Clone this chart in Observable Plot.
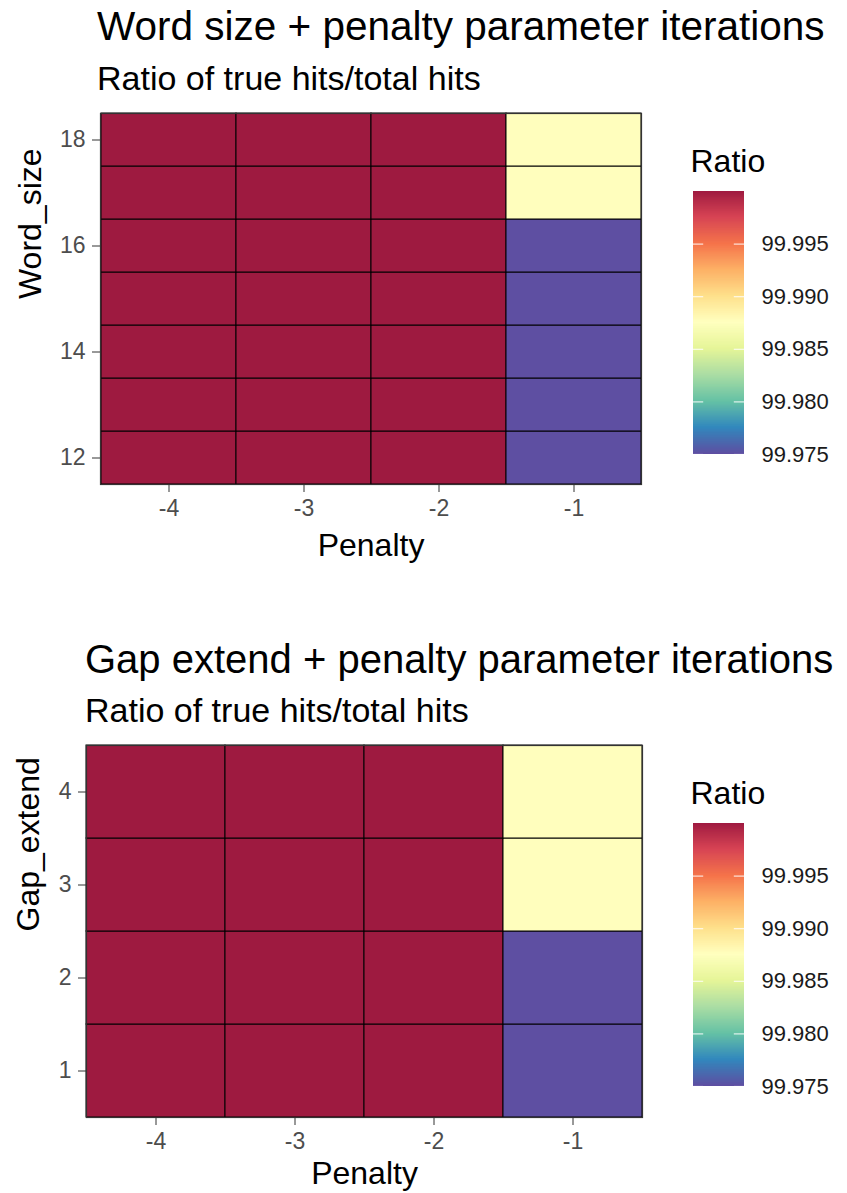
<!DOCTYPE html>
<html><head><meta charset="utf-8">
<script src="https://cdn.jsdelivr.net/npm/d3@7"></script>
<script src="https://cdn.jsdelivr.net/npm/@observablehq/plot@0.6"></script>
<style>
html,body{margin:0;padding:0;background:#fff;}
#root{position:relative;width:847px;height:1193px;overflow:hidden;font-family:"Liberation Sans",Arial,sans-serif;background:#fff;}
.t{position:absolute;white-space:nowrap;line-height:1;color:#000;}
</style></head><body><div id="root"></div>
<script>
// ---- data ----
const penalties = [-4, -3, -2, -1];
const wordSizes = [12, 13, 14, 15, 16, 17, 18];
const gapExtends = [1, 2, 3, 4];
// ratio (%) per penalty column, rows listed from lowest to highest row value
const wordRatioPenM4 = [100, 100, 100, 100, 100, 100, 100];
const wordRatioPenM3 = [100, 100, 100, 100, 100, 100, 100];
const wordRatioPenM2 = [100, 100, 100, 100, 100, 100, 100];
const wordRatioPenM1 = [99.975, 99.975, 99.975, 99.975, 99.975, 99.9876, 99.9876];
const gapRatioPenM4 = [100, 100, 100, 100];
const gapRatioPenM3 = [100, 100, 100, 100];
const gapRatioPenM2 = [100, 100, 100, 100];
const gapRatioPenM1 = [99.975, 99.975, 99.9876, 99.9876];
const wordTicks = [12, 14, 16, 18];
const gapTicks = [1, 2, 3, 4];
const legendTicks = [99.975, 99.98, 99.985, 99.99, 99.995];
const titles = ["Word size + penalty parameter iterations", "Gap extend + penalty parameter iterations"];
const subtitle = "Ratio of true hits/total hits";
// Spectral palette, low -> high
const paletteColors = ["#5E4FA2", "#3288BD", "#66C2A5", "#ABDDA4", "#E6F598", "#FFFFBF",
  "#FEE08B", "#FDAE61", "#F46D43", "#D53E4F", "#9E1A40"];

const allRatios = [wordRatioPenM4, wordRatioPenM3, wordRatioPenM2, wordRatioPenM1,
  gapRatioPenM4, gapRatioPenM3, gapRatioPenM2, gapRatioPenM1].flat();
const colorDomain = d3.extent(allRatios);
const colorScale = {type: "linear", domain: colorDomain, interpolate: d3.piecewise(d3.interpolateRgb, paletteColors)};
const FONT = '"Liberation Sans", Arial, sans-serif';

const root = document.getElementById("root");
function addText(txt, left, top, size) {
  const d = document.createElement("div");
  d.className = "t";
  d.style.left = left + "px"; d.style.top = top + "px"; d.style.fontSize = size + "px";
  d.textContent = txt;
  root.appendChild(d);
}
function place(el, left, top) {
  el.style.position = "absolute"; el.style.left = left + "px"; el.style.top = top + "px";
  root.appendChild(el);
}

function heat({rows, cols, yTicks, yLabel, width, height, mL, mR, mT, mB, yTitleDx, xTitleDy}) {
  const data = [];
  rows.forEach((r, i) => cols.forEach((col, j) => data.push({penalty: penalties[j], row: r, ratio: col[i]})));
  return Plot.plot({
    width, height, marginLeft: mL, marginRight: mR, marginTop: mT, marginBottom: mB,
    style: {fontFamily: FONT, background: "transparent", overflow: "visible"},
    x: {type: "band", domain: penalties, padding: 0},
    y: {type: "band", domain: rows.slice().reverse(), padding: 0},
    color: colorScale,
    marks: [
      Plot.cell(data, {x: "penalty", y: "row", fill: "ratio", stroke: "black", strokeWidth: 1}),
      Plot.frame({stroke: "#333", strokeWidth: 1.2}),
      Plot.axisX({tickSize: 8, tickPadding: 7, fontSize: 23, stroke: "#333", fill: "#4d4d4d", label: null}),
      Plot.axisY({ticks: yTicks, tickSize: 8, tickPadding: 7, fontSize: 23, stroke: "#333", fill: "#4d4d4d", label: null}),
      Plot.text(["Penalty"], {frameAnchor: "bottom", lineAnchor: "middle", dy: xTitleDy, fontSize: 32, text: d => d, fill: "#000"}),
      Plot.text([yLabel], {frameAnchor: "left", lineAnchor: "middle", dx: yTitleDx, rotate: -90, fontSize: 32, text: d => d, fill: "#000"})
    ]
  });
}

function legend() {
  const n = 264;
  const dv = (colorDomain[1] - colorDomain[0]) / n;
  const steps = d3.range(n).map(i => colorDomain[0] + i * dv);
  return Plot.plot({
    width: 167, height: 334, marginLeft: 13, marginRight: 103, marginTop: 51, marginBottom: 20,
    style: {fontFamily: FONT, background: "transparent", overflow: "visible"},
    x: {domain: [0, 1], axis: null},
    y: {domain: colorDomain},
    color: colorScale,
    marks: [
      Plot.rect(steps, {x1: 0, x2: 1, y1: d => d, y2: d => Math.min(d + dv * 1.6, colorDomain[1]), fill: d => d}),
      Plot.ruleY(legendTicks, {x1: 0, x2: 0.2, stroke: "white", strokeWidth: 1.2, strokeOpacity: 0.8}),
      Plot.ruleY(legendTicks, {x1: 0.8, x2: 1, stroke: "white", strokeWidth: 1.2, strokeOpacity: 0.8}),
      Plot.axisY({anchor: "right", ticks: legendTicks, tickSize: 0, tickPadding: 17, tickFormat: d3.format(".3f"), fontSize: 22, fill: "#1a1a1a", label: null}),
      Plot.text(["Ratio"], {frameAnchor: "top-left", lineAnchor: "middle", textAnchor: "start", dx: -3, dy: -30, fontSize: 32, text: d => d, fill: "#000"})
    ]
  });
}

// ---- panel 1 ----
addText(titles[0], 97, 6, 40.5);
addText(subtitle, 97, 61, 34);
place(heat({rows: wordSizes, cols: [wordRatioPenM4, wordRatioPenM3, wordRatioPenM2, wordRatioPenM1],
  yTicks: wordTicks, yLabel: "Word_size", width: 660, height: 480, mL: 100, mR: 19, mT: 13, mB: 96, yTitleDx: -70, xTitleDy: 61}), 0, 100);
place(legend(), 680, 140);

// ---- panel 2 ----
addText(titles[1], 85, 639, 40);
addText(subtitle, 85, 693, 34);
place(heat({rows: gapExtends, cols: [gapRatioPenM4, gapRatioPenM3, gapRatioPenM2, gapRatioPenM1],
  yTicks: gapTicks, yLabel: "Gap_extend", width: 660, height: 463, mL: 86, mR: 18, mT: 15, mB: 76, yTitleDx: -58, xTitleDy: 56}), 0, 730);
place(legend(), 680, 772);
</script></body></html>
